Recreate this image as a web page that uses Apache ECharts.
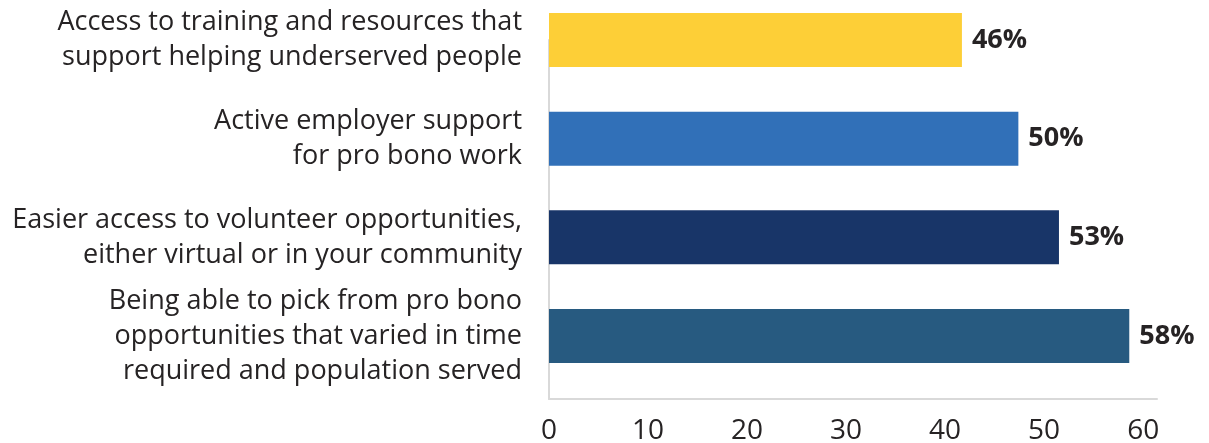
<!DOCTYPE html>
<html>
<head>
<meta charset="utf-8">
<script src="https://cdn.jsdelivr.net/npm/echarts@6/dist/echarts.min.js"></script>
<style>
  html, body { margin: 0; padding: 0; background: #fff; }
  #chart { width: 1209px; height: 443px; }
</style>
</head>
<body>
<div id="chart"></div>
<script>
// categories, top to bottom
var categories = [
  'Access to training and resources that\nsupport helping underserved people',
  'Active employer support\nfor pro bono work',
  'Easier access to volunteer opportunities,\neither virtual or in your community',
  'Being able to pick from pro bono\nopportunities that varied in time\nrequired and population served'
];
// bar lengths as drawn against the axis
var barValues = [41.7, 47.4, 51.5, 58.6];
// printed labels next to the bars
var valueLabels = ['46%', '50%', '53%', '58%'];
var barColors = ['#FDCF37', '#3170B8', '#183568', '#275A80'];
var tickLabels = [0, 10, 20, 30, 40, 50, 60];

var FONT = '"Open Sans"';
var TEXT = '#262324';

var chart = echarts.init(document.getElementById('chart'));

chart.setOption({
  animation: false,
  grid: [
    // bars
    { left: 549, right: 52, top: -9.4, height: 394.8, outerBoundsMode: 'none' },
    // axis frame
    { left: 549, right: 52, top: 40, height: 359, outerBoundsMode: 'none' }
  ],
  xAxis: [
    {
      gridIndex: 0, type: 'value', min: 0, max: 61.4, interval: 10,
      show: false
    },
    {
      gridIndex: 1, type: 'value', min: 0, max: 61.4, interval: 10,
      axisLine: { show: true, lineStyle: { color: '#d9d9d9', width: 2 } },
      axisTick: { show: false },
      splitLine: { show: false },
      axisLabel: {
        showMaxLabel: false,
        margin: 18,
        fontFamily: FONT, fontSize: 28, color: TEXT,
        formatter: function (v) {
          return tickLabels.indexOf(v) >= 0 ? String(v) : '';
        }
      }
    }
  ],
  yAxis: [
    {
      gridIndex: 0, type: 'category', inverse: true, data: categories,
      axisLine: { show: false },
      axisTick: { show: false },
      axisLabel: {
        margin: 27,
        align: 'right',
        padding: [8, 0, 0, 0],
        fontFamily: FONT, fontSize: 27, lineHeight: 35, color: TEXT
      }
    },
    {
      gridIndex: 1, type: 'value', min: 0, max: 1,
      axisLine: { show: true, lineStyle: { color: '#d9d9d9', width: 2 } },
      axisTick: { show: false },
      axisLabel: { show: false },
      splitLine: { show: false }
    }
  ],
  series: [
    {
      type: 'bar',
      xAxisIndex: 0,
      yAxisIndex: 0,
      barWidth: 54,
      z: 3,
      data: barValues.map(function (v, i) {
        return { value: v, itemStyle: { color: barColors[i] } };
      }),
      label: {
        show: true,
        position: 'right',
        distance: 10,
        padding: [3, 0, 0, 0],
        fontFamily: FONT, fontWeight: 'bold', fontSize: 27, color: TEXT,
        formatter: function (p) { return valueLabels[p.dataIndex]; }
      }
    }
  ]
});
</script>
</body>
</html>
